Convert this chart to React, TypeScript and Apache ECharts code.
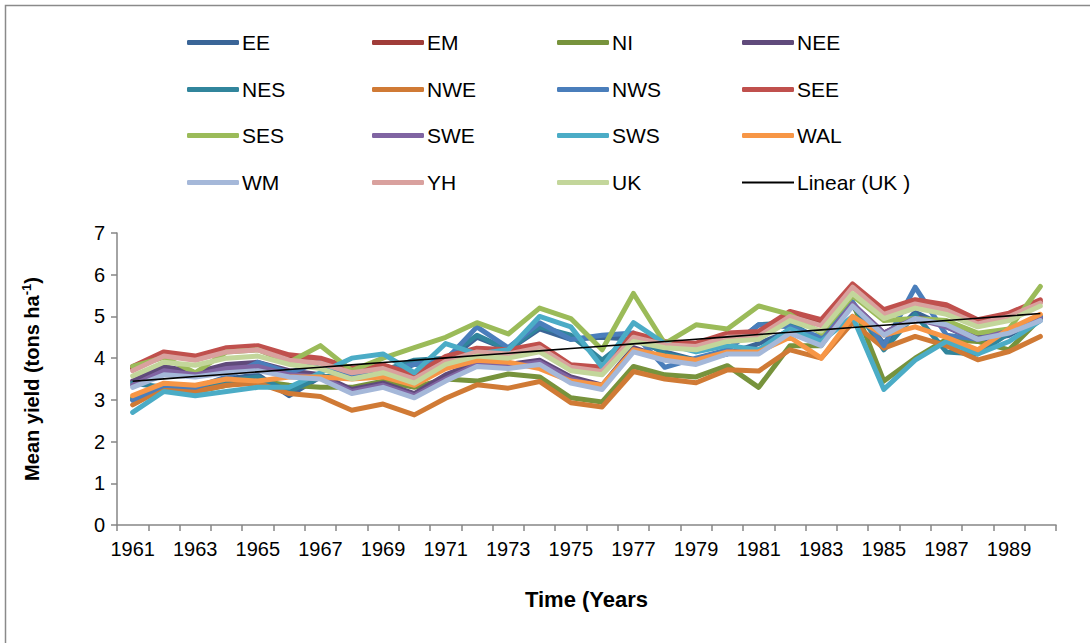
import React, { useEffect, useRef } from "react";
import * as echarts from "echarts";

const years = ["1961","1962","1963","1964","1965","1966","1967","1968","1969","1970","1971","1972","1973","1974","1975","1976","1977","1978","1979","1980","1981","1982","1983","1984","1985","1986","1987","1988","1989","1990"];

const EE = [3.0,3.35,3.3,3.5,3.6,3.1,3.55,3.55,3.6,3.85,3.9,4.5,4.2,4.7,4.45,4.5,4.45,4.15,3.95,4.1,4.35,4.65,4.45,5.25,4.35,5.1,4.75,4.4,4.55,4.95];
const EM = [3.75,4.1,4.0,4.2,4.25,4.0,3.9,3.7,3.8,3.55,3.95,4.2,4.15,4.3,3.8,3.7,4.55,4.35,4.3,4.55,4.55,5.05,4.85,5.75,5.1,5.35,5.2,4.85,5.05,5.35];
const NI = [3.05,3.25,3.2,3.35,3.45,3.35,3.3,3.3,3.45,3.3,3.5,3.45,3.62,3.55,3.05,2.95,3.8,3.6,3.55,3.82,3.3,4.3,4.3,5.35,3.45,4.0,4.45,4.4,4.2,4.95];
const NEE = [3.45,3.8,3.65,3.85,3.9,3.7,3.6,3.25,3.4,3.15,3.6,3.9,3.85,3.95,3.55,3.35,4.25,4.0,3.95,4.15,4.15,4.7,4.4,5.3,4.6,5.0,4.8,4.5,4.6,5.0];
const NES = [3.4,3.3,3.2,3.45,3.55,3.2,3.55,3.6,3.7,3.95,4.0,4.55,4.2,4.75,4.55,3.95,4.55,4.1,3.95,4.2,4.8,4.85,4.4,5.3,4.2,5.05,4.15,4.1,4.6,5.0];
const NWE = [2.88,3.28,3.2,3.35,3.4,3.15,3.08,2.75,2.9,2.64,3.04,3.36,3.28,3.44,2.93,2.83,3.68,3.5,3.41,3.72,3.69,4.2,4.0,4.85,4.24,4.52,4.3,3.96,4.16,4.52];
const NWS = [3.0,3.35,3.3,3.55,3.9,3.65,3.9,3.55,3.7,3.85,3.95,4.75,4.25,4.85,4.45,4.55,4.6,3.78,4.0,4.2,4.8,4.75,4.5,5.35,4.3,5.7,4.55,4.45,4.7,5.0];
const SEE = [3.8,4.15,4.05,4.25,4.3,4.08,4.0,3.76,3.84,3.6,4.04,4.24,4.2,4.34,3.84,3.78,4.6,4.4,4.36,4.6,4.64,5.12,4.92,5.78,5.16,5.4,5.28,4.92,5.08,5.4];
const SES = [3.8,4.02,3.65,4.15,4.2,3.9,4.3,3.7,4.0,4.25,4.5,4.85,4.58,5.2,4.95,4.2,5.55,4.35,4.8,4.7,5.25,5.05,4.6,5.5,4.9,4.95,4.9,4.6,4.7,5.72];
const SWE = [3.35,3.7,3.6,3.75,3.8,3.6,3.55,3.2,3.35,3.1,3.5,3.85,3.8,3.9,3.5,3.3,4.2,4.0,3.9,4.15,4.15,4.65,4.35,5.3,4.6,4.95,4.75,4.45,4.65,4.95];
const SWS = [2.7,3.2,3.1,3.2,3.3,3.3,3.65,4.0,4.1,3.65,4.35,4.1,4.2,5.0,4.75,3.78,4.85,4.35,4.15,4.3,4.2,4.7,4.4,5.0,3.25,3.95,4.4,4.1,4.4,4.9];
const WAL = [3.1,3.4,3.35,3.5,3.45,3.55,3.55,3.5,3.55,3.35,3.75,3.95,3.9,3.75,3.45,3.35,4.2,4.05,3.95,4.15,4.15,4.5,4.0,5.0,4.55,4.75,4.5,4.2,4.7,5.05];
const WM = [3.3,3.6,3.55,3.65,3.7,3.55,3.5,3.15,3.3,3.05,3.45,3.8,3.75,3.85,3.4,3.25,4.15,3.95,3.85,4.1,4.1,4.6,4.3,5.25,4.55,4.95,4.8,4.45,4.6,4.9];
const YH = [3.7,4.05,3.95,4.15,4.2,3.95,3.88,3.65,3.75,3.5,3.92,4.15,4.1,4.25,3.78,3.68,4.5,4.32,4.28,4.5,4.52,5.0,4.78,5.7,5.05,5.3,5.15,4.82,5.0,5.32];
const UK = [3.57,3.9,3.83,4.0,4.05,3.85,3.75,3.5,3.65,3.4,3.85,4.05,4.0,4.15,3.7,3.6,4.4,4.25,4.2,4.4,4.45,4.9,4.65,5.55,4.95,5.2,5.05,4.75,4.9,5.25];

const seriesNames = ["EE","EM","NI","NEE","NES","NWE","NWS","SEE","SES","SWE","SWS","WAL","WM","YH","UK"];
const seriesData = [EE,EM,NI,NEE,NES,NWE,NWS,SEE,SES,SWE,SWS,WAL,WM,YH,UK];
const seriesColors = ["#3A6597","#A03C39","#77933C","#604A7B","#31859C","#D07A35","#4A7EBB","#C0504D","#9BBB59","#8064A2","#4BACC6","#F79646","#A5B8D9","#D9A19E","#C3D69B"];
const trendName = "Linear (UK )";
const yTicks = [0, 7, 1];
const xTitle = "Time (Years";

function linearFit(vals: number[]) {
  const n = vals.length;
  const mx = (n - 1) / 2;
  const my = vals.reduce((a, b) => a + b, 0) / n;
  let sxy = 0, sxx = 0;
  vals.forEach((v, i) => { sxy += (i - mx) * (v - my); sxx += (i - mx) * (i - mx); });
  const b = sxy / sxx;
  const a = my - b * mx;
  return vals.map((_, i) => +(a + b * i).toFixed(4));
}

const FONT = "'Liberation Sans', Arial, sans-serif";

export default function App() {
  const ref = useRef<HTMLDivElement>(null);
  useEffect(() => {
    if (!ref.current) return;
    const chart = echarts.init(ref.current, null, { renderer: "svg" });
    const legendNames = [...seriesNames, trendName];
    const rowY = [44, 91, 137, 184];
    const legends = legendNames.map((n, i) => ({
      data: [n],
      left: 187 + (i % 4) * 185,
      top: rowY[Math.floor(i / 4)] - 12,
      itemWidth: 52,
      itemHeight: n === trendName ? 2 : 5,
      icon: n === trendName ? "rect" : "roundRect",
      padding: 0,
      itemGap: 0,
      selectedMode: false,
      textStyle: { fontSize: 21, color: "#000", fontFamily: FONT, padding: [0, 0, 0, -2] },
    }));
    const series: any[] = seriesNames.map((n, i) => ({
      name: n,
      type: "line",
      data: seriesData[i],
      showSymbol: false,
      symbol: "none",
      color: seriesColors[i],
      lineStyle: { width: 5, color: seriesColors[i], cap: "round", join: "round" },
      emphasis: { disabled: true },
    }));
    series.push({
      name: trendName,
      type: "line",
      data: linearFit(UK),
      showSymbol: false,
      symbol: "none",
      color: "#000",
      lineStyle: { width: 1.6, color: "#000" },
      emphasis: { disabled: true },
    });
    chart.setOption({
      animation: false,
      backgroundColor: "#fff",
      legend: legends,
      grid: { left: 117, top: 233, right: 34, bottom: 118, containLabel: false },
      graphic: [
        { type: "rect", shape: { x: 5.5, y: 5.5, width: 1200, height: 1000 }, style: { fill: "none", stroke: "#8a8a8a", lineWidth: 1.5 }, silent: true },
      ],
      xAxis: {
        type: "category",
        data: years,
        boundaryGap: true,
        name: xTitle,
        nameLocation: "middle",
        nameGap: 63,
        nameTextStyle: { fontSize: 22, fontWeight: "bold", color: "#000", fontFamily: FONT },
        axisLine: { lineStyle: { color: "#868686", width: 1.5 } },
        axisTick: { show: true, length: 6, interval: 0, lineStyle: { color: "#868686", width: 1.5 } },
        axisLabel: { interval: 1, fontSize: 20, color: "#000", fontFamily: FONT, margin: 14 },
        splitLine: { show: false },
      },
      yAxis: {
        type: "value",
        min: yTicks[0],
        max: yTicks[1],
        interval: yTicks[2],
        name: "{a|Mean yield (tons ha}{s|-1}{a|)}",
        nameLocation: "middle",
        nameGap: 74,
        nameRotate: 90,
        nameTextStyle: {
          rich: {
            a: { fontSize: 20, fontWeight: "bold", color: "#000", fontFamily: FONT },
            s: { fontSize: 13, fontWeight: "bold", color: "#000", fontFamily: FONT, padding: [0, 0, 10, 0] },
          },
        },
        axisLine: { show: true, lineStyle: { color: "#868686", width: 1.5 } },
        axisTick: { show: true, length: 6, lineStyle: { color: "#868686", width: 1.5 } },
        axisLabel: { fontSize: 20, color: "#000", fontFamily: FONT, margin: 12 },
        splitLine: { show: false },
      },
      series,
    });
    return () => chart.dispose();
  }, []);
  return <div ref={ref} style={{ position: "fixed", left: 0, top: 0, width: 1090, height: 643 }} />;
}
